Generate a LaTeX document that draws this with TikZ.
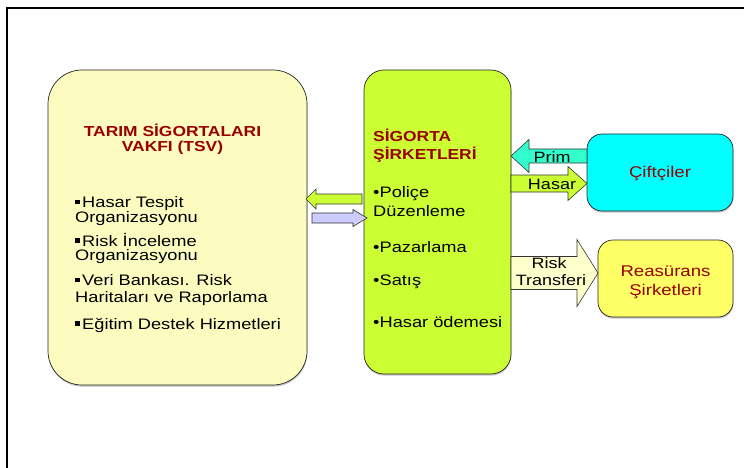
\documentclass[tikz,border=0pt]{standalone}
\usepackage{fontspec}
\setmainfont{Liberation Sans}[FakeStretch=1.2]
\usetikzlibrary{shadows}
\definecolor{tsvfill}{HTML}{FCFCC0}
\definecolor{sigfill}{HTML}{CCFF33}
\definecolor{ciffill}{HTML}{00FFFF}
\definecolor{reafill}{HTML}{FFFF66}
\definecolor{primfill}{HTML}{33FFCC}
\definecolor{lavfill}{HTML}{CCCCFF}
\definecolor{riskfill}{HTML}{FFFFCC}
\definecolor{darkred}{HTML}{990000}
% #1 tail x, #2 head base x, #3 tip x, #4 centre y, #5 half body, #6 half head, #7 style
\newcommand\harrowshape[7]{%
  \draw[#7] (#1,#4-#5) -- (#2,#4-#5) -- (#2,#4-#6) -- (#3,#4) -- (#2,#4+#6) -- (#2,#4+#5) -- (#1,#4+#5) -- cycle;}
\newcommand\sqbul{\rule[3.5pt]{4.5pt}{4.5pt}\hspace{2.5pt}}
\begin{document}
\begin{tikzpicture}[x=1pt,y=-1pt,
  box/.style={draw=black!85, line width=0.7pt, inner sep=0pt,
    drop shadow={shadow xshift=0.4pt, shadow yshift=-1.6pt, fill=black!45}},
  blockarrow/.style={draw=black!80, line width=0.6pt},
  redtitle/.style={font=\fontsize{14.5}{16}\selectfont\bfseries, text=darkred, inner sep=0pt},
  txt/.style={font=\fontsize{15.2}{16}\selectfont, inner sep=0pt, anchor=base west},
  ctxt/.style={font=\fontsize{15}{16}\selectfont, inner sep=0pt, anchor=base},
  redtxt/.style={font=\fontsize{15.5}{16}\selectfont, text=darkred, inner sep=0pt, anchor=base},
]
\useasboundingbox (0,0) rectangle (744,468);
\clip (0,0) rectangle (744,468);
\fill[white] (0,0) rectangle (744,468);

% frame
\draw[line width=2.5pt] (7,480) -- (7,8) -- (760,8);

% boxes
\node[box, fill=tsvfill, rounded corners=34pt, minimum width=259pt, minimum height=315pt] (tsv) at (177.5,227.5) {};
\node[box, fill=sigfill, rounded corners=20pt, minimum width=147pt, minimum height=304pt] (sig) at (437.5,222) {};
\node[box, fill=ciffill, rounded corners=15pt, minimum width=146pt, minimum height=77pt] (cif) at (660,172.5) {};
\node[box, fill=reafill, rounded corners=15pt, minimum width=135pt, minimum height=77pt] (rea) at (665.5,278.5) {};

% block arrows
\harrowshape{362}{316}{306}{199}{5}{10}{blockarrow, fill=sigfill}
\harrowshape{312}{353}{367}{218}{5}{8.5}{blockarrow, fill=lavfill}
\harrowshape{587}{529}{511}{156}{7}{16.5}{blockarrow, fill=primfill}
\harrowshape{511}{568}{587}{183.5}{8.5}{17}{blockarrow, fill=sigfill}
\harrowshape{511}{577}{598}{273}{16.5}{33.5}{blockarrow, fill=riskfill}

% TSV texts
\node[redtitle, anchor=base] (tsvt1) at (172.5,136) {TARIM SİGORTALARI};
\node[redtitle, anchor=base] (tsvt2) at (172.5,152) {VAKFI (TSV)};
\node[txt] (l1) at (75,207.5) {\sqbul Hasar Tespit};
\node[txt] (l2) at (75,222) {Organizasyonu};
\node[txt] (l3) at (75,246) {\sqbul Risk İnceleme};
\node[txt] (l4) at (75,260.5) {Organizasyonu};
\node[txt] (l5) at (75,285.5) {\sqbul Veri Bankası. Risk};
\node[txt] (l6) at (75,302) {Haritaları ve Raporlama};
\node[txt] (l7) at (75,329) {\sqbul Eğitim Destek Hizmetleri};

% SIGORTA texts
\node[redtitle, anchor=base west] (sigt1) at (373,142) {SİGORTA};
\node[redtitle, anchor=base west] (sigt2) at (373,159) {ŞİRKETLERİ};
\node[txt] (s1) at (373,197) {•Poliçe};
\node[txt] (s2) at (373,216) {Düzenleme};
\node[txt] (s3) at (373,252) {•Pazarlama};
\node[txt] (s4) at (373,285) {•Satış};
\node[txt] (s5) at (373,327) {•Hasar ödemesi};

% arrow labels
\node[ctxt] (prim) at (552,162) {Prim};
\node[ctxt] (hasar) at (552,189.5) {Hasar};
\node[ctxt] (risk1) at (549,268.5) {Risk};
\node[ctxt] (risk2) at (551,285) {Transferi};

% right boxes texts
\node[redtxt] (ciftci) at (cif.center) [yshift=-5pt] {Çiftçiler};
\node[redtxt] (rea1) at (665.5,276) {Reasürans};
\node[redtxt] (rea2) at (665.5,295) {Şirketleri};
\end{tikzpicture}
\end{document}
